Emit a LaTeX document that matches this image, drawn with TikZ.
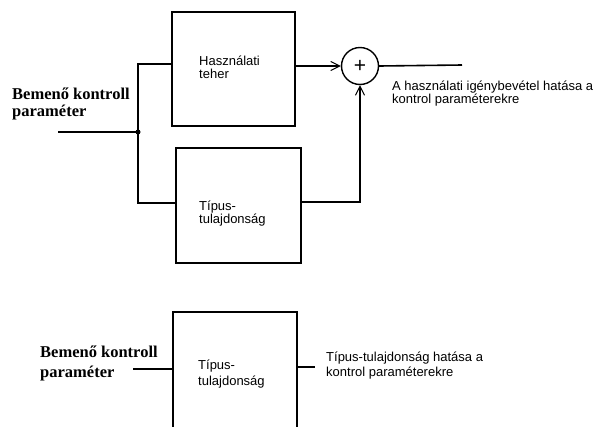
\documentclass[tikz,border=0pt]{standalone}
\usepackage{fontspec}
\setmainfont{Liberation Serif}
\newfontfamily\arialfont{Liberation Sans}
\usetikzlibrary{arrows.meta}

\tikzset{
  wire/.style={line width=1.6pt},
  blk/.style={draw, line width=1.6pt, rectangle, inner sep=0pt},
  barb/.style={-{Straight Barb[length=9pt,width=9pt,line width=1pt]}},
  sanslbl/.style={font=\arialfont\fontsize{13}{13}\selectfont, align=left, inner sep=0pt, anchor=north west},
  seriflbl/.style={font=\fontsize{16.5}{17}\selectfont\bfseries, align=left, inner sep=0pt, anchor=north west},
}

\begin{document}
\begin{tikzpicture}[x=1pt,y=-1pt]
  \useasboundingbox (0,0) rectangle (597,426);
  \clip (0,0) rectangle (597,426);

  % upper system: two blocks feeding a summing junction
  \node[blk, minimum width=123pt, minimum height=114pt] (b1) at (233.5,69) {};
  \node[blk, minimum width=125pt, minimum height=115pt] (b2) at (238.5,205.5) {};
  \node[draw, circle, line width=1.4pt, minimum size=37pt, inner sep=0pt,
        font=\arialfont\fontsize{21}{21}\selectfont] (sum) at (360,66) {+};
  \node[circle, fill, inner sep=0pt, minimum size=5pt] (j) at (138,132) {};

  \coordinate (in1) at (58,132);
  \coordinate (out1) at (462,65);

  \draw[wire] (in1) -- (j.center);
  \draw[wire] (j.center) |- ([yshift=5pt]b1.west);
  \draw[wire] (j.center) |- ([yshift=2.5pt]b2.west);
  \draw[wire, barb] ([yshift=3pt]b1.east) -- (sum.west);
  \draw[wire, barb] ([yshift=3.5pt]b2.east) -| (sum.south);
  \draw[wire] (sum.east) -- (out1);

  \node[seriflbl] (in1lbl) at (12,87.5) {Bemenő kontroll\\paraméter};
  \node[sanslbl] (b1lbl) at (199,55.5) {Használati\\teher};
  \node[sanslbl, font=\arialfont\fontsize{13}{12.5}\selectfont] (b2lbl) at (199,201) {Típus-\\tulajdonság};
  \node[sanslbl] (out1lbl) at (392,80.5) {A használati igénybevétel hatása a\\kontrol paraméterekre};

  % lower system: a single block
  \node[blk, minimum width=124pt, minimum height=128pt] (b3) at (235,376) {};
  \coordinate (in2) at (133,369);
  \coordinate (out2) at (315,367);
  \draw[wire] (in2) -- (in2 -| b3.west);
  \draw[wire] (out2 -| b3.east) -- (out2);

  \node[seriflbl, font=\fontsize{16.5}{20}\selectfont\bfseries] (in2lbl) at (40,345.5) {Bemenő kontroll\\paraméter};
  \node[sanslbl, font=\arialfont\fontsize{13}{16}\selectfont] (b3lbl) at (198,359.5) {Típus-\\tulajdonság};
  \node[sanslbl, font=\arialfont\fontsize{13}{15}\selectfont] (out2lbl) at (326,352) {Típus-tulajdonság hatása a\\kontrol paraméterekre};
\end{tikzpicture}
\end{document}
